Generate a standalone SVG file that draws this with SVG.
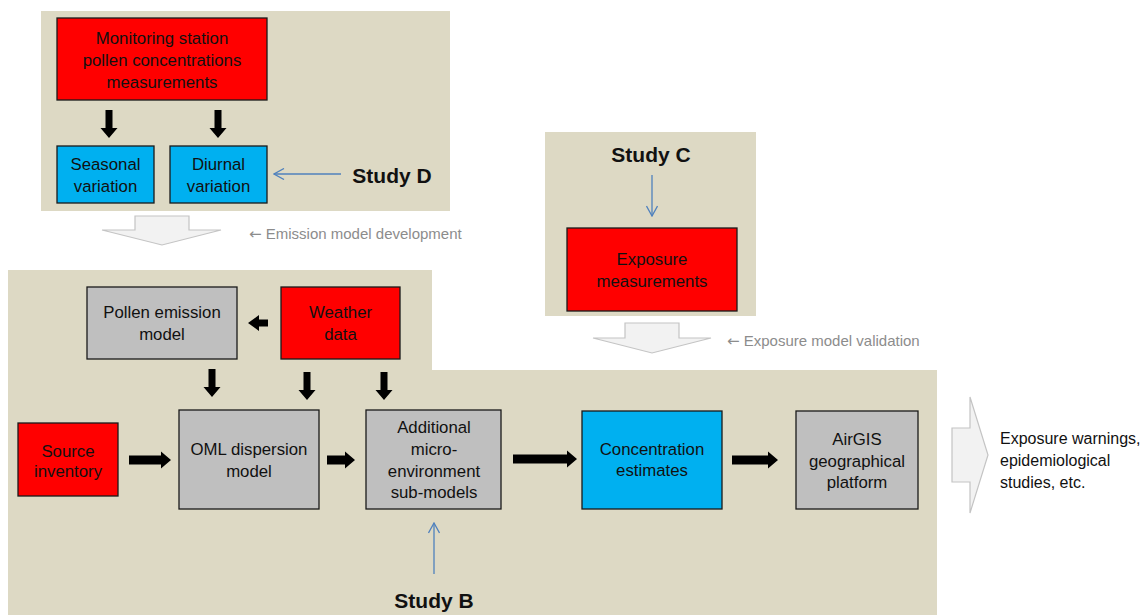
<svg xmlns="http://www.w3.org/2000/svg" width="1145" height="615" viewBox="0 0 1145 615">
<defs>
<style>
.panel{fill:#ddd9c4;stroke:none}
.box{stroke:#1a1a1a;stroke-width:1.3}
.red{fill:#ff0000}
.blue{fill:#00b0f0}
.gray{fill:#bfbfbf}
.t{font-family:"Liberation Sans",Arial,sans-serif;font-size:16.8px;fill:#111;text-anchor:middle}
.study{font-family:"Liberation Sans",Arial,sans-serif;font-size:21px;font-weight:bold;fill:#111;text-anchor:middle}
.lbl{font-family:"Liberation Sans","DejaVu Sans",Arial,sans-serif;font-size:15px;fill:#8c8c8c}
.arr{font-family:"DejaVu Sans",sans-serif;font-size:15px}
.out{font-family:"Liberation Sans",Arial,sans-serif;font-size:16px;fill:#111}
.blk{fill:#000}
.hollow{fill:#f2f2f2;stroke:#c4c4c4;stroke-width:1.2}
.thin{stroke:#4f81bd;stroke-width:1.3;fill:none}
</style>
<marker id="vee" viewBox="0 0 12 12" refX="11" refY="6" markerWidth="12" markerHeight="12" markerUnits="userSpaceOnUse" orient="auto">
<path d="M1,0.5 L11,6 L1,11.5" fill="none" stroke="#4f81bd" stroke-width="1.3"/>
</marker>
</defs>

<g id="panels">
<rect class="panel" x="41" y="11" width="409" height="200"/>
<rect class="panel" x="545" y="132" width="211" height="184"/>
<polygon class="panel" points="8,270 432,270 432,370 937,370 937,615 8,615"/>
</g>

<g id="connectors">
<polygon class="blk" points="105.5,110 112.5,110 112.5,128 117.5,128 109,138 100.5,128 105.5,128"/>
<polygon class="blk" points="214.5,110 221.5,110 221.5,128 226.5,128 218,138 209.5,128 214.5,128"/>
<polygon class="blk" points="208.5,369 215.5,369 215.5,387 220.5,387 212,397 203.5,387 208.5,387"/>
<polygon class="blk" points="303.5,372 310.5,372 310.5,390 315.5,390 307,400 298.5,390 303.5,390"/>
<polygon class="blk" points="380.5,372 387.5,372 387.5,390 392.5,390 384,400 375.5,390 380.5,390"/>
<polygon class="blk" points="268,319.5 268,326.5 259,326.5 259,331 248,323 259,315 259,319.5"/>
<polygon class="blk" points="129,455.5 161,455.5 161,451.5 171,460 161,468.5 161,464.5 129,464.5"/>
<polygon class="blk" points="327,455.5 345,455.5 345,451.5 355,460 345,468.5 345,464.5 327,464.5"/>
<polygon class="blk" points="513,454.5 567,454.5 567,450.5 577,459 567,467.5 567,463.5 513,463.5"/>
<polygon class="blk" points="732,455.5 768,455.5 768,451.5 778,460 768,468.5 768,464.5 732,464.5"/>
<polygon class="hollow" points="135,216 189,216 189,230 221,230 162,245 102,230 135,230"/>
<polygon class="hollow" points="625,323 679,323 679,338 711,338 652,353 593,338 625,338"/>
<polygon class="hollow" points="952,428 970,428 970,397 988,455 970,513 970,482 952,482"/>
<line class="thin" x1="341" y1="174" x2="274" y2="174" marker-end="url(#vee)"/>
<line class="thin" x1="652" y1="175" x2="652" y2="216" marker-end="url(#vee)"/>
<line class="thin" x1="434" y1="574" x2="434" y2="523" marker-end="url(#vee)"/>
</g>

<g id="monitoring">
<rect class="box red" x="57" y="18" width="210" height="82"/>
<text class="t" x="162" y="44">Monitoring station</text>
<text class="t" x="162" y="66">pollen concentrations</text>
<text class="t" x="162" y="88">measurements</text>
</g>
<g id="seasonal">
<rect class="box blue" x="57" y="146" width="97" height="57"/>
<text class="t" x="105.5" y="170">Seasonal</text>
<text class="t" x="105.5" y="192">variation</text>
</g>
<g id="diurnal">
<rect class="box blue" x="170" y="146" width="97" height="57"/>
<text class="t" x="218.5" y="170">Diurnal</text>
<text class="t" x="218.5" y="192">variation</text>
</g>
<g id="studyD"><text class="study" x="392" y="183">Study D</text></g>
<g id="emission-label"><text class="lbl" x="249" y="239"><tspan class="arr">←</tspan> Emission model development</text></g>

<g id="studyC"><text class="study" x="651" y="162">Study C</text></g>
<g id="exposure">
<rect class="box red" x="567" y="228" width="170" height="83"/>
<text class="t" x="652" y="265">Exposure</text>
<text class="t" x="652" y="287">measurements</text>
</g>
<g id="validation-label"><text class="lbl" x="727" y="346"><tspan class="arr">←</tspan> Exposure model validation</text></g>

<g id="pollen-emission">
<rect class="box gray" x="87" y="287" width="150" height="72"/>
<text class="t" x="162" y="318">Pollen emission</text>
<text class="t" x="162" y="340">model</text>
</g>
<g id="weather">
<rect class="box red" x="281" y="287" width="119" height="72"/>
<text class="t" x="340.5" y="318">Weather</text>
<text class="t" x="340.5" y="340">data</text>
</g>
<g id="source">
<rect class="box red" x="18" y="423" width="100" height="73"/>
<text class="t" x="68" y="457">Source</text>
<text class="t" x="68" y="477">inventory</text>
</g>
<g id="oml">
<rect class="box gray" x="179" y="410" width="140" height="99"/>
<text class="t" x="249" y="455">OML dispersion</text>
<text class="t" x="249" y="477">model</text>
</g>
<g id="additional">
<rect class="box gray" x="366" y="410" width="135" height="99"/>
<text class="t" x="434" y="433">Additional</text>
<text class="t" x="434" y="455">micro-</text>
<text class="t" x="434" y="477">environment</text>
<text class="t" x="434" y="498">sub-models</text>
</g>
<g id="concentration">
<rect class="box blue" x="582" y="411" width="140" height="98"/>
<text class="t" x="652" y="455">Concentration</text>
<text class="t" x="652" y="476">estimates</text>
</g>
<g id="airgis">
<rect class="box gray" x="796" y="411" width="122" height="98"/>
<text class="t" x="857" y="445">AirGIS</text>
<text class="t" x="857" y="467">geographical</text>
<text class="t" x="857" y="488">platform</text>
</g>
<g id="studyB"><text class="study" x="434" y="608">Study B</text></g>
<g id="outcome">
<text class="out" x="1000" y="444">Exposure warnings,</text>
<text class="out" x="1000" y="466">epidemiological</text>
<text class="out" x="1000" y="488">studies, etc.</text>
</g>
</svg>
